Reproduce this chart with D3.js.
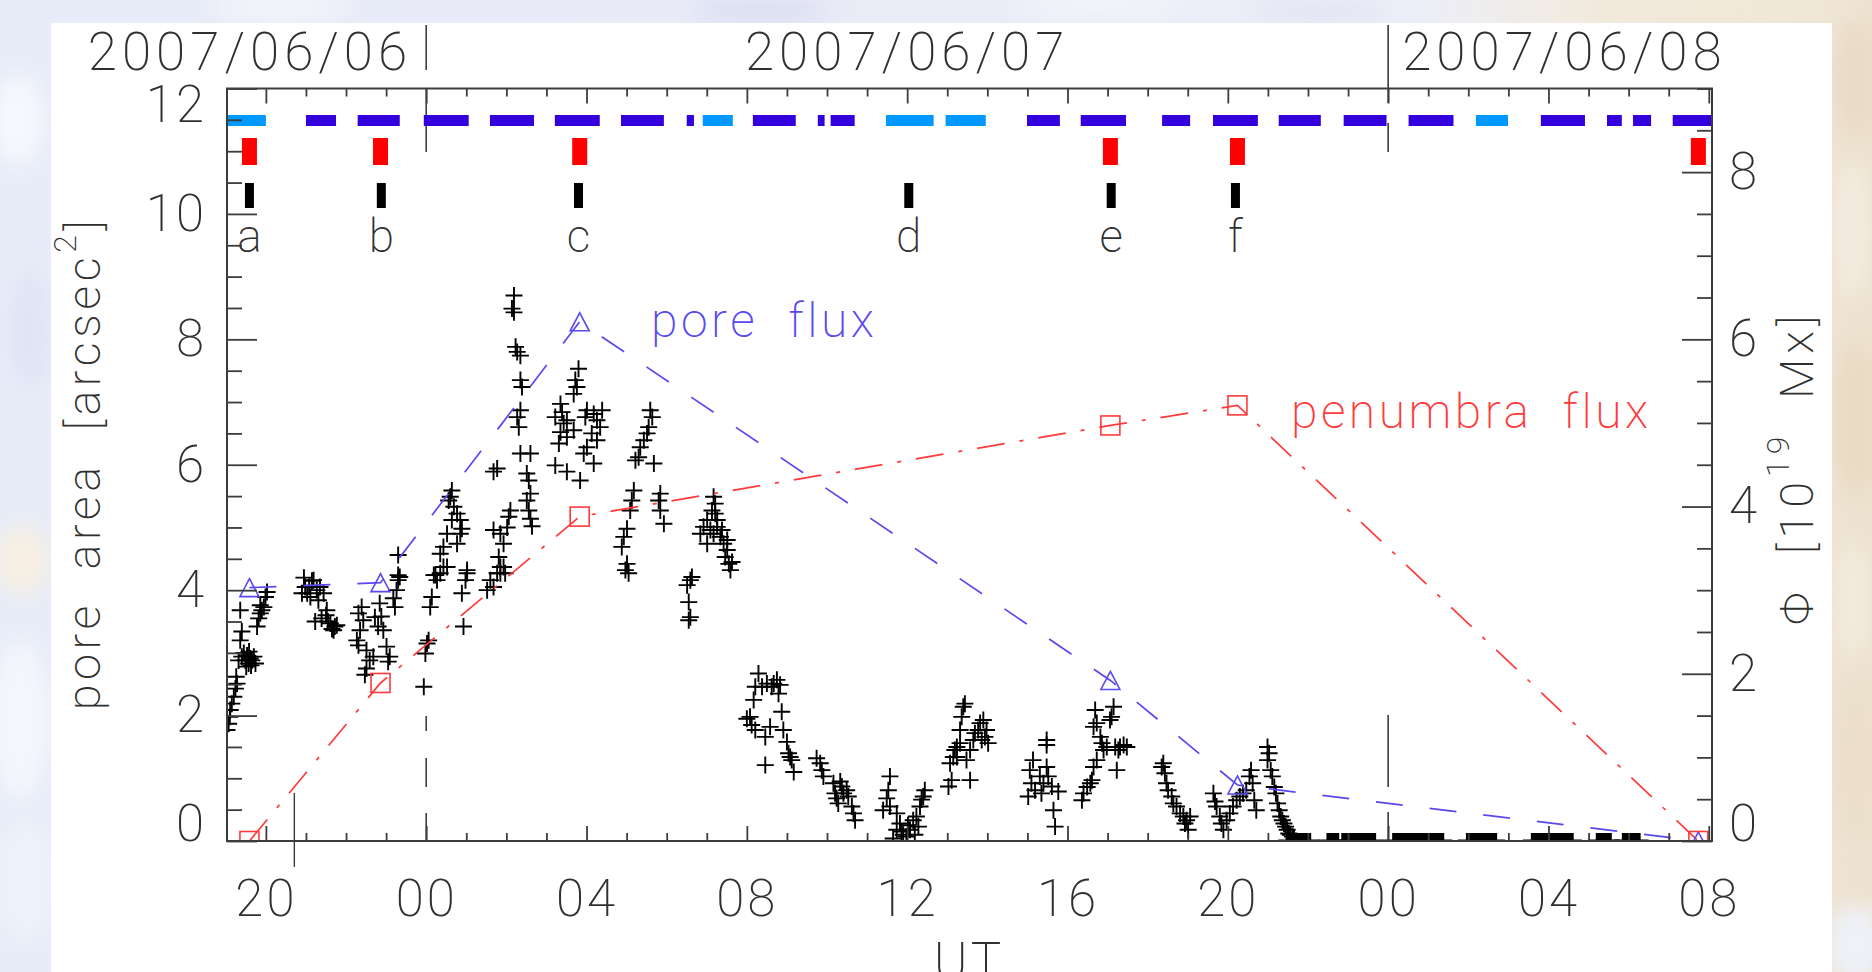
<!DOCTYPE html>
<html>
<head>
<meta charset="utf-8">
<script src="https://cdn.jsdelivr.net/npm/d3@7"></script>
<style>
  html, body { margin: 0; padding: 0; background: #fff; }
  svg { display: block; }
  text { font-family: Roboto, "DejaVu Sans", sans-serif; font-weight: 200; }
</style>
</head>
<body>
<svg id="chart" width="1872" height="972"></svg>
<script>
// All times are hours UT counted from 2007-06-06 00:00.

// Observing runs shown as the coloured strip along the top (mode 1 = light, mode 2 = dark).
const obsStart = [19.03, 21.00, 22.29, 23.94, 25.59, 27.21, 28.86, 30.50, 30.90, 32.15, 33.77, 34.09, 35.47, 36.96,
                  38.99, 40.33, 42.36, 43.63, 45.27, 46.89, 48.51, 50.19, 51.81, 53.46, 54.11, 55.10];
const obsEnd   = [20.00, 21.75, 23.34, 25.06, 26.69, 28.33, 29.93, 30.68, 31.65, 33.22, 33.94, 34.69, 36.66, 37.96,
                  39.81, 41.46, 43.06, 44.75, 46.32, 47.96, 49.63, 50.99, 52.91, 53.83, 54.56, 56.08];
const obsMode  = [1, 2, 2, 2, 2, 2, 2, 2, 1, 2, 2, 2, 1, 1,
                  2, 2, 2, 2, 2, 2, 2, 1, 2, 2, 2, 2];

// Flux measurements (10^19 Mx)
const fluxHour      = [19.59, 22.86, 27.83, 41.07, 44.24, 55.74];
const poreFlux      = [3.03, 3.09, 6.21, 1.92, 0.67, 0.00];
const penumbraFlux  = [0.00, 1.89, 3.88, 4.97, 5.21, 0.00];

// Snapshot times labelled a-f
const snapHour  = [19.59, 22.88, 27.80, 36.04, 41.09, 44.19];
const snapLabel = ["a", "b", "c", "d", "e", "f"];

// Pore area samples [hour, arcsec^2]
const areaSamples = [
  [19.03,1.77],[19.07,1.87],[19.10,1.98],[19.11,2.09],[19.15,2.19],[19.20,2.30],[19.24,2.43],[19.26,2.62],[19.28,2.51],
  [19.32,2.88],[19.36,3.20],[19.36,3.68],[19.40,2.94],[19.40,3.34],[19.45,3.00],[19.49,2.88],[19.51,2.78],[19.53,2.96],
  [19.57,2.83],[19.58,3.02],[19.61,2.91],[19.63,2.80],[19.65,2.88],[19.70,2.94],[19.74,2.83],[19.78,3.42],[19.82,3.55],
  [19.86,3.63],[19.86,3.76],[19.90,3.68],[19.95,3.73],[19.99,3.89],[20.03,3.97],
  [20.90,3.95],[20.95,4.20],[20.98,4.05],[21.03,3.95],[21.08,4.06],[21.11,3.89],[21.15,4.15],[21.19,4.16],[21.23,3.50],
  [21.27,4.00],[21.31,3.84],[21.35,4.05],[21.39,3.55],[21.44,3.95],[21.50,3.60],[21.52,3.68],[21.55,3.50],[21.61,3.47],
  [21.65,3.38],[21.69,3.36],[21.72,3.42],[21.77,3.44],
  [22.27,3.20],[22.31,3.63],[22.31,3.12],[22.35,3.36],[22.39,3.73],[22.43,3.52],[22.47,2.65],[22.51,3.04],[22.51,2.75],
  [22.59,2.88],[22.68,2.94],[22.72,3.57],[22.80,3.42],[22.84,3.79],[22.88,3.58],[22.93,3.36],[23.01,3.10],[23.05,2.86],
  [23.09,2.94],[23.18,3.87],[23.22,3.73],[23.26,4.00],[23.30,4.16],[23.30,4.24],[23.30,4.56],[23.34,4.21],
  [23.94,2.46],[23.98,2.99],[24.02,3.15],[24.06,3.20],[24.10,3.73],[24.14,3.89],[24.19,4.24],[24.23,4.24],[24.27,4.16],
  [24.35,4.27],[24.35,4.58],[24.43,4.37],[24.43,4.69],[24.52,4.90],[24.52,4.37],[24.56,5.43],[24.60,5.49],[24.64,5.12],
  [24.64,5.59],[24.69,5.33],[24.77,5.22],[24.77,4.74],[24.85,5.12],[24.85,4.90],[24.89,4.98],[24.89,3.95],[24.93,3.42],
  [24.98,4.16],[25.02,4.32],[25.02,4.27],
  [25.52,4.00],[25.60,4.16],[25.68,4.05],[25.68,4.96],[25.68,5.89],[25.77,4.27],[25.77,5.94],[25.81,4.53],[25.85,4.37],
  [25.85,4.27],[25.85,4.90],[25.93,4.37],[25.93,4.74],[25.97,4.27],[26.02,5.00],[26.06,5.17],[26.10,5.27],[26.14,8.49],
  [26.19,8.70],[26.19,8.43],[26.23,7.88],[26.27,7.80],[26.27,6.76],[26.31,6.60],[26.35,7.74],[26.35,7.35],[26.35,6.87],
  [26.35,6.18],[26.39,7.24],[26.51,5.86],[26.51,5.43],[26.56,5.75],[26.56,5.27],[26.60,6.18],[26.60,5.54],[26.60,5.14],
  [26.64,5.02],
  [27.22,6.76],[27.22,5.99],[27.31,6.34],[27.35,6.97],[27.35,6.52],[27.39,6.84],[27.43,6.66],[27.51,6.71],[27.51,6.44],
  [27.51,5.89],[27.68,7.13],[27.68,6.55],[27.72,7.35],[27.76,7.24],[27.80,7.53],[27.84,5.75],[27.93,6.18],[27.97,6.76],
  [28.01,6.87],[28.01,6.28],[28.13,6.50],[28.18,6.81],[28.18,6.02],[28.26,6.71],[28.26,6.39],[28.34,6.60],[28.39,6.87],
  [28.88,4.69],[28.93,4.85],[28.97,4.32],[29.01,4.98],[29.01,4.42],[29.05,4.27],[29.09,5.27],[29.13,5.43],[29.18,5.59],
  [29.22,6.07],[29.30,6.12],[29.34,6.28],[29.43,6.39],[29.51,6.50],[29.55,6.60],[29.59,6.87],[29.64,6.76],[29.68,6.02],
  [29.80,5.43],[29.84,5.54],[29.84,5.27],[29.93,5.06],
  [30.51,4.08],[30.55,3.81],[30.55,3.52],[30.59,4.16],[30.59,3.57],[30.63,4.21],
  [30.84,4.90],[30.92,5.01],[31.01,5.12],[31.01,4.74],[31.09,4.96],[31.13,5.27],[31.17,5.49],[31.17,4.90],[31.21,5.38],
  [31.21,5.22],[31.26,5.01],[31.26,5.12],[31.34,4.85],[31.38,4.96],[31.42,4.74],[31.46,4.53],[31.51,4.64],[31.51,4.80],
  [31.55,4.42],[31.59,4.32],[31.63,4.45],
  [32.00,1.95],[32.08,1.98],[32.12,1.85],[32.17,2.25],[32.21,2.46],[32.21,1.77],[32.29,2.67],[32.38,2.46],[32.46,1.66],
  [32.46,1.21],[32.50,2.51],[32.58,1.82],[32.62,2.46],[32.67,2.51],[32.75,2.57],[32.79,2.35],[32.83,2.49],[32.87,2.06],
  [32.91,1.77],[33.00,1.58],[33.04,1.40],[33.08,1.34],[33.12,1.29],[33.17,1.10],
  [33.74,1.32],[33.83,1.24],[33.87,1.13],[33.91,1.03],[34.16,0.92],[34.20,0.76],[34.24,0.68],[34.28,0.60],[34.33,0.95],
  [34.37,0.87],[34.41,0.76],[34.49,0.81],[34.53,0.71],[34.62,0.55],[34.66,0.44],[34.70,0.33],
  [35.40,0.49],[35.49,0.68],[35.53,0.81],[35.57,1.03],[35.57,0.55],[35.65,0.04],[35.74,0.44],[35.74,0.18],[35.82,0.28],
  [35.86,0.15],[35.90,0.10],[35.98,0.07],[36.02,0.25],[36.07,0.18],[36.15,0.33],[36.19,0.10],[36.23,0.39],[36.28,0.23],
  [36.32,0.55],[36.36,0.66],[36.40,0.71],[36.44,0.81],
  [37.03,0.87],[37.07,1.24],[37.11,0.97],[37.15,1.34],[37.19,1.45],[37.24,1.50],[37.24,1.34],[37.32,1.77],[37.32,1.56],
  [37.36,1.98],[37.40,2.14],[37.44,2.19],[37.48,1.29],[37.57,1.45],[37.57,0.97],[37.65,1.61],[37.69,1.72],[37.77,1.77],
  [37.82,1.88],[37.86,1.61],[37.90,1.93],[37.94,1.66],[37.98,1.77],[38.02,1.56],
  [39.02,0.71],[39.06,1.13],[39.10,0.92],[39.14,1.29],[39.19,0.81],[39.31,1.03],[39.35,0.76],[39.40,0.92],[39.48,1.18],
  [39.48,1.61],[39.48,1.53],[39.52,1.03],[39.61,0.87],[39.65,0.49],[39.69,0.23],[39.77,0.79],
  [40.36,0.65],[40.40,0.76],[40.49,0.86],[40.57,0.92],[40.61,0.97],[40.65,1.18],[40.65,1.82],[40.69,2.09],[40.73,1.29],
  [40.73,1.88],[40.82,1.66],[40.86,1.56],[40.90,1.45],[40.98,1.50],[41.06,1.93],[41.10,1.98],[41.15,2.14],[41.19,1.50],
  [41.23,1.13],[41.27,1.45],[41.31,1.50],[41.40,1.53],[41.48,1.50],
  [42.35,1.18],[42.39,1.24],[42.43,1.08],[42.47,0.92],[42.51,0.81],[42.60,0.71],[42.64,0.60],[42.72,0.55],[42.81,0.44],
  [42.89,0.39],[42.93,0.28],[42.97,0.33],[43.01,0.18],[43.06,0.39],
  [43.64,0.76],[43.68,0.63],[43.72,0.55],[43.80,0.39],[43.84,0.28],[43.89,0.18],[43.97,0.33],[44.05,0.44],[44.13,0.55],
  [44.22,0.65],[44.30,0.71],[44.38,0.76],[44.46,0.81],[44.54,1.03],[44.58,1.13],[44.62,0.92],[44.66,0.65],[44.71,0.49],
  [44.99,1.50],[44.99,1.29],[45.03,1.40],[45.07,1.13],[45.11,1.03],[45.16,0.86],[45.20,0.76],[45.24,0.60],[45.28,0.49],
  [45.32,0.39],[45.36,0.33],[45.40,0.28],[45.44,0.23],[45.48,0.18],[45.52,0.12],[45.56,0.10],[45.61,0.07],[45.65,0.04]
];

// Stretches where every sample has zero pore area (drawn as the packed run of markers on the baseline)
const zeroAreaStart = [45.46, 46.46, 46.83, 48.10, 49.94, 51.56, 53.18, 53.83];
const zeroAreaEnd   = [46.08, 46.78, 47.70, 49.40, 50.72, 52.63, 53.58, 54.30];

// Axis ticks and labels
const areaTicks   = [0, 2, 4, 6, 8, 10, 12];
const fluxTicks   = [0, 2, 4, 6, 8];
const hourTicks   = [20, 24, 28, 32, 36, 40, 44, 48, 52, 56];
const dayLabels   = ["2007/06/06", "2007/06/07", "2007/06/08"];
const dayStart    = [0, 24, 48];
const markHour    = 20.71;

// ---------------------------------------------------------------
const W = 1872, H = 972;
const plot = { left: 227, right: 1712, top: 88.5, bottom: 841 };
const svg = d3.select("#chart");
const defs = svg.append("defs");

const x = d3.scaleLinear().domain([19.03, 56.08]).range([plot.left, plot.right]);
const yArea = d3.scaleLinear().domain([0, 12]).range([plot.bottom, plot.top]);
const yFlux = d3.scaleLinear().domain([0, 9]).range([plot.bottom, plot.top]);

const axisColor = "#3c3c3c";
const textColor = "#303030";
const blue = "#5a48f0";
const red = "#ff3a3a";

// ---- soft backdrop around the white panel ----
const grad = defs.append("linearGradient").attr("id", "bgGrad")
  .attr("x1", 0).attr("x2", 1).attr("y1", 0).attr("y2", 0);
[[0, "#e7ecf8"], [0.45, "#e9ebf7"], [0.76, "#eceef7"], [0.84, "#f1ebe1"], [0.97, "#eee4d3"], [1, "#ede2cf"]]
  .forEach(([o, c]) => grad.append("stop").attr("offset", o).attr("stop-color", c));
defs.append("filter").attr("id", "haze").attr("x", "-50%").attr("y", "-50%").attr("width", "200%").attr("height", "200%")
  .append("feGaussianBlur").attr("stdDeviation", 10);

const bg = svg.append("g");
bg.append("rect").attr("width", W).attr("height", H).attr("fill", "url(#bgGrad)");
const blots = [
  [18, 120, 26, 45, "#f7f8fd"], [30, 330, 20, 60, "#dfe5f5"], [22, 560, 28, 35, "#f6efe3"], [20, 720, 30, 80, "#f4f6fc"],
  [25, 880, 30, 60, "#eef2fb"], [280, 8, 70, 12, "#f5f6fc"], [760, 10, 70, 12, "#dcdff2"], [1100, 6, 90, 10, "#f4f5fb"],
  [1320, 12, 70, 10, "#e2e4f4"], [1720, 8, 140, 14, "#f2e8d8"],
  [1856, 80, 22, 60, "#e9dcc6"], [1852, 230, 20, 70, "#f3ebdf"], [1856, 420, 24, 80, "#e9dcc5"],
  [1852, 600, 20, 60, "#f2eadc"], [1856, 760, 24, 80, "#ebdfcb"], [1856, 945, 30, 40, "#eef1f8"]
];
bg.append("g").attr("filter", "url(#haze)").selectAll("ellipse").data(blots).join("ellipse")
  .attr("cx", d => d[0]).attr("cy", d => d[1]).attr("rx", d => d[2]).attr("ry", d => d[3]).attr("fill", d => d[4]);

svg.append("rect").attr("x", 51).attr("y", 23).attr("width", 1781).attr("height", H - 23).attr("fill", "#fff");

defs.append("clipPath").attr("id", "plotClip").append("rect")
  .attr("x", plot.left).attr("y", plot.top)
  .attr("width", plot.right - plot.left).attr("height", plot.bottom - plot.top);

// ---- day boundary lines ----
const dayLineStyle = [
  { top: "64,18,45", bottom: "28,26,29,27,15", bottomTo: 716 },
  { top: "29,20,78", bottom: "29,25,72", bottomTo: 715 }
];
[24, 48].forEach((h, i) => {
  const xx = x(h);
  svg.append("line").attr("x1", xx).attr("x2", xx).attr("y1", 152).attr("y2", 25)
    .attr("stroke", axisColor).attr("stroke-width", 1.6).attr("stroke-dasharray", dayLineStyle[i].top);
  svg.append("line").attr("x1", xx).attr("x2", xx).attr("y1", plot.bottom).attr("y2", dayLineStyle[i].bottomTo)
    .attr("stroke", axisColor).attr("stroke-width", 1.6).attr("stroke-dasharray", dayLineStyle[i].bottom);
});
svg.append("line").attr("x1", x(markHour)).attr("x2", x(markHour)).attr("y1", 793).attr("y2", 867)
  .attr("stroke", axisColor).attr("stroke-width", 1.4);

// ---- day labels on top ----
svg.append("g").selectAll("text").data(dayLabels).join("text")
  .attr("x", (d, i) => {
    const noon = dayStart[i] + 12;
    if (noon < x.domain()[0]) return x(dayStart[i] + 24) - 14;
    if (noon > x.domain()[1]) return x(dayStart[i]) + 14;
    return x(noon);
  })
  .attr("text-anchor", (d, i) => {
    const noon = dayStart[i] + 12;
    if (noon < x.domain()[0]) return "end";
    if (noon > x.domain()[1]) return "start";
    return "middle";
  })
  .attr("y", 70).attr("fill", textColor)
  .style("font-size", "53px").style("letter-spacing", "5px")
  .text(d => d);

const inner = svg.append("g").attr("clip-path", "url(#plotClip)");

// ---- observing-run strip ----
inner.append("g").selectAll("rect").data(obsStart).join("rect")
  .attr("x", (d, i) => x(obsStart[i]))
  .attr("width", (d, i) => x(obsEnd[i]) - x(obsStart[i]))
  .attr("y", 115).attr("height", 11)
  .attr("fill", (d, i) => obsMode[i] === 1 ? "#0099ff" : "#3300dd");

// ---- flux-time markers (red) and snapshot markers (black) ----
inner.append("g").selectAll("rect").data(fluxHour).join("rect")
  .attr("x", d => x(d) - 7.5).attr("width", 15).attr("y", 138).attr("height", 27).attr("fill", "#ff0000");
inner.append("g").selectAll("rect").data(snapHour).join("rect")
  .attr("x", d => x(d) - 4.5).attr("width", 9).attr("y", 183).attr("height", 25).attr("fill", "#000");
svg.append("g").selectAll("text").data(snapLabel).join("text")
  .attr("x", (d, i) => x(snapHour[i])).attr("y", 252).attr("text-anchor", "middle")
  .attr("fill", textColor).style("font-size", "46px").text(d => d);

// ---- pore area samples ----
const plus = "M-8.5,0H8.5M0,-8.5V8.5";
inner.append("g").selectAll("path").data(areaSamples).join("path")
  .attr("transform", d => `translate(${x(d[0])},${yArea(d[1])})`)
  .attr("d", plus).attr("stroke", "#000").attr("stroke-width", 1.9).attr("fill", "none");

const zeroG = inner.append("g");
zeroG.selectAll("rect").data(zeroAreaStart).join("rect")
  .attr("x", (d, i) => x(zeroAreaStart[i])).attr("width", (d, i) => x(zeroAreaEnd[i]) - x(zeroAreaStart[i]))
  .attr("y", yArea(0) - 8).attr("height", 8).attr("fill", "#000");
zeroG.selectAll("line").data(zeroAreaStart).join("line")
  .attr("x1", (d, i) => x(zeroAreaStart[i]) - 8).attr("x2", (d, i) => x(zeroAreaEnd[i]) + 8)
  .attr("y1", yArea(0) - 0.5).attr("y2", yArea(0) - 0.5).attr("stroke", "#000").attr("stroke-width", 2);

// ---- flux curves ----
const fluxPts = (vals) => fluxHour.map((h, i) => [x(h), yFlux(vals[i])]);
inner.append("path").attr("d", d3.line()(fluxPts(poreFlux)))
  .attr("fill", "none").attr("stroke", blue).attr("stroke-width", 1.7).attr("stroke-dasharray", "27,27");
inner.append("path").attr("d", d3.line()(fluxPts(penumbraFlux)))
  .attr("fill", "none").attr("stroke", red).attr("stroke-width", 1.7).attr("stroke-dasharray", "28,15,4,15");

inner.append("g").selectAll("path").data(fluxPts(poreFlux)).join("path")
  .attr("transform", d => `translate(${d[0]},${d[1]})`)
  .attr("d", "M0,-9L9.5,9L-9.5,9Z").attr("fill", "none").attr("stroke", blue).attr("stroke-width", 1.6);
inner.append("g").selectAll("rect").data(fluxPts(penumbraFlux)).join("rect")
  .attr("x", d => d[0] - 9.5).attr("y", d => d[1] - 9.5).attr("width", 19).attr("height", 19)
  .attr("fill", "none").attr("stroke", red).attr("stroke-width", 1.6);

svg.append("text").attr("x", 651).attr("y", 337).attr("fill", blue)
  .style("font-size", "48px").style("letter-spacing", "3.5px").attr("xml:space", "preserve").text("pore  flux");
svg.append("text").attr("x", 1291).attr("y", 428).attr("fill", red)
  .style("font-size", "48px").style("letter-spacing", "3.5px").attr("xml:space", "preserve").text("penumbra  flux");

// ---- axes ----
function styleAxis(g) {
  g.select(".domain").remove();
  g.selectAll("line").attr("stroke", axisColor).attr("stroke-width", 1.8);
  g.selectAll("text").attr("fill", textColor).style("font-size", "51px").style("font-family", null);
}
const minorArea = d3.range(0, 12.01, 0.5).filter(v => v % 2 !== 0);
const minorFlux = d3.range(0, 9.01, 0.5).filter(v => v % 2 !== 0);
const minorHour = d3.range(20, 57, 1).filter(h => h % 4 !== 0);
const hourFmt = h => d3.format("02d")(h % 24);

// left
svg.append("g").attr("transform", `translate(${plot.left},0)`)
  .call(d3.axisLeft(yArea).tickValues(areaTicks).tickSize(-30).tickPadding(21).tickFormat(d3.format("d")))
  .call(styleAxis)
  .call(g => g.selectAll(".tick text").style("letter-spacing", "2px").attr("y", d => d === 12 ? 17 : d === 0 ? -17 : 0));
svg.append("g").attr("transform", `translate(${plot.left},0)`)
  .call(d3.axisLeft(yArea).tickValues(minorArea).tickSize(-15).tickFormat(""))
  .call(styleAxis);
// right
svg.append("g").attr("transform", `translate(${plot.right},0)`)
  .call(d3.axisRight(yFlux).tickValues(fluxTicks).tickSize(-30).tickPadding(17).tickFormat(d3.format("d")))
  .call(styleAxis)
  .call(g => g.selectAll(".tick text").attr("y", d => d === 0 ? -17 : 0));
svg.append("g").attr("transform", `translate(${plot.right},0)`)
  .call(d3.axisRight(yFlux).tickValues(minorFlux).tickSize(-15).tickFormat(""))
  .call(styleAxis);
// bottom
svg.append("g").attr("transform", `translate(0,${plot.bottom})`)
  .call(d3.axisBottom(x).tickValues(hourTicks).tickSize(-15).tickPadding(39).tickFormat(hourFmt))
  .call(styleAxis)
  .call(g => g.selectAll(".tick text").style("letter-spacing", "3px"));
svg.append("g").attr("transform", `translate(0,${plot.bottom})`)
  .call(d3.axisBottom(x).tickValues(minorHour).tickSize(-8).tickFormat(""))
  .call(styleAxis);
// top
svg.append("g").attr("transform", `translate(0,${plot.top})`)
  .call(d3.axisTop(x).tickValues(hourTicks).tickSize(-15).tickFormat(""))
  .call(styleAxis);
svg.append("g").attr("transform", `translate(0,${plot.top})`)
  .call(d3.axisTop(x).tickValues(minorHour).tickSize(-8).tickFormat(""))
  .call(styleAxis);

// frame
svg.append("rect").attr("x", plot.left).attr("y", plot.top)
  .attr("width", plot.right - plot.left).attr("height", plot.bottom - plot.top)
  .attr("fill", "none").attr("stroke", axisColor).attr("stroke-width", 2);

// ---- axis titles ----
const leftTitle = svg.append("text").attr("transform", "translate(100,463) rotate(-90)")
  .attr("text-anchor", "middle").attr("fill", textColor).attr("xml:space", "preserve")
  .style("font-size", "47px").style("letter-spacing", "4.5px");
leftTitle.append("tspan").text("pore  area  [arcsec");
leftTitle.append("tspan").attr("dy", "-0.75em").style("font-size", "32px").text("2");
leftTitle.append("tspan").attr("dy", "0.52em").text("]");

const rightTitle = svg.append("text").attr("transform", "translate(1813,468) rotate(-90)")
  .attr("text-anchor", "middle").attr("fill", textColor).attr("xml:space", "preserve")
  .style("font-size", "47px").style("letter-spacing", "5px");
rightTitle.append("tspan").text("Φ  [10");
rightTitle.append("tspan").attr("dy", "-0.75em").style("font-size", "32px").text("19");
rightTitle.append("tspan").attr("dy", "0.52em").text("  Mx]");

svg.append("text").attr("x", 969).attr("y", 979).attr("text-anchor", "middle")
  .attr("fill", textColor).style("font-size", "51px").style("letter-spacing", "3px").text("UT");
</script>
</body>
</html>
